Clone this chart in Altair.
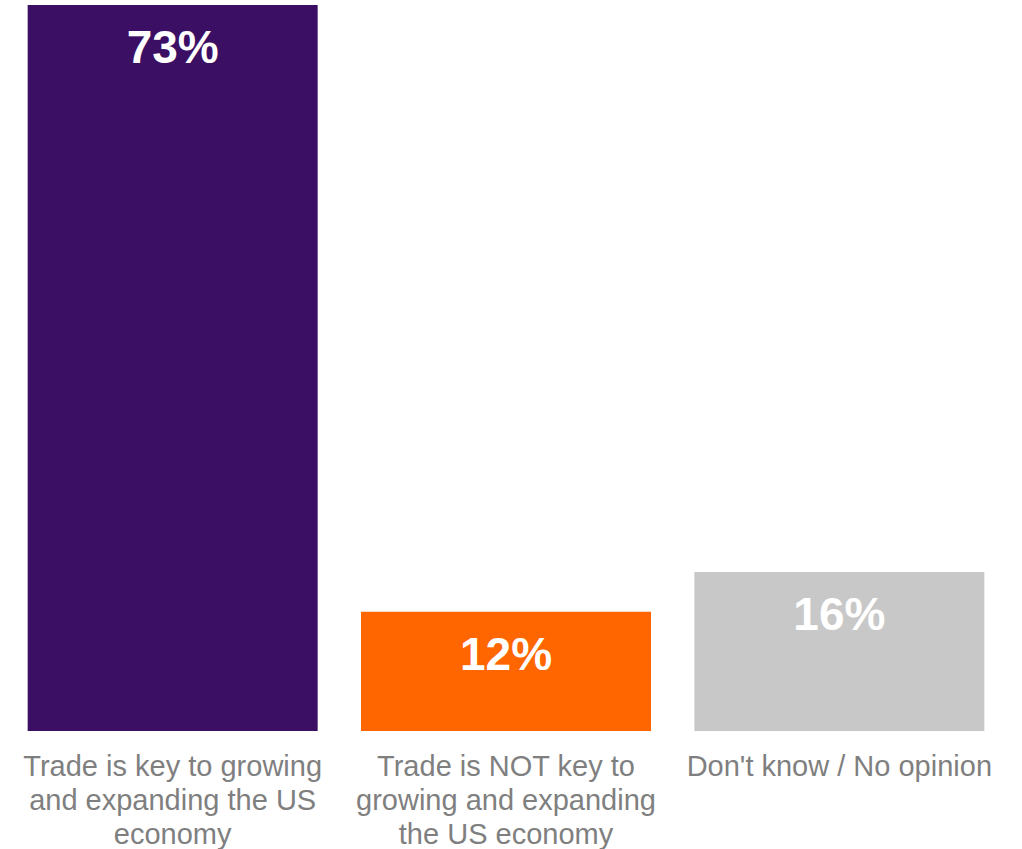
import altair as alt
import pandas as pd

categories = [
    "Trade is key to growing\nand expanding the US\neconomy",
    "Trade is NOT key to\ngrowing and expanding\nthe US economy",
    "Don't know / No opinion",
]
values = [73, 12, 16]
colors = ["#3B0F63", "#FF6600", "#C8C8C8"]

df = pd.DataFrame({"category": categories, "value": values, "color": colors})
df["label"] = df["value"].astype(str) + "%"

x = alt.X(
    "category:N",
    sort=categories,
    scale=alt.Scale(paddingInner=0.13, paddingOuter=0.065),
    axis=alt.Axis(
        title=None,
        labelAngle=0,
        ticks=False,
        domain=False,
        grid=False,
        labelExpr="split(datum.label, '\\n')",
        labelFont="Liberation Sans",
        labelFontSize=29,
        labelColor="#7F7F7F",
        labelLineHeight=34,
        labelPadding=21,
        labelBaseline="top",
        labelLimit=0,
    ),
)
y = alt.Y("value:Q", scale=alt.Scale(domain=[0, 73], nice=False, zero=True), axis=None)

bars = alt.Chart(df).mark_bar().encode(
    x=x, y=y, color=alt.Color("color:N", scale=None)
)
text = alt.Chart(df).mark_text(
    font="Liberation Sans",
    fontSize=46,
    fontWeight="bold",
    color="white",
    baseline="alphabetic",
    dy=58,
).encode(x=x, y=y, text="label:N")

chart = (
    alt.layer(bars, text)
    .properties(
        width=1000,
        height=726,
        autosize=alt.AutoSizeParams(type="none"),
        padding={"left": 6, "top": 5, "right": 16, "bottom": 118},
        view=alt.ViewBackground(strokeWidth=0, strokeOpacity=0),
    )
    .configure_view(strokeWidth=0, strokeOpacity=0)
    .configure(background="white")
)

chart.save("out.html", embed_options={"renderer": "svg", "actions": False})
